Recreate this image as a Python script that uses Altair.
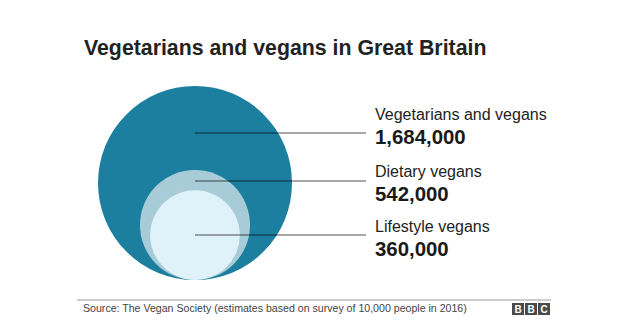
import math
import altair as alt
import pandas as pd

# ---- data ----
groups = ["Vegetarians and vegans", "Dietary vegans", "Lifestyle vegans"]
values = [1684000, 542000, 360000]
value_labels = ["1,684,000", "542,000", "360,000"]
colors = ["#1d7fa0", "#a7ccd7", "#e0f2f9"]

title_text = "Vegetarians and vegans in Great Britain"
source_text = "Source: The Vegan Society (estimates based on survey of 10,000 people in 2016)"
logo_letters = ["B", "B", "C"]

# ---- layout (pixels) ----
W, H = 625, 329
CX, BASE, RMAX = 195, 280, 97
line_y = [133, 181, 235]
line_x2 = 366
name_y = [120, 177, 232]
value_y = [144, 201, 256]
label_x = 375
FONT = "Liberation Sans"

vmax = max(values)
radii = [RMAX * math.sqrt(v / vmax) for v in values]
circles = pd.DataFrame({
    "group": groups,
    "value": values,
    "cx": [CX] * 3,
    "cy": [BASE - r for r in radii],
    "order": [0, 1, 2],
})
rows = pd.DataFrame({
    "group": groups,
    "label": value_labels,
    "x1": [CX] * 3,
    "x2": [line_x2] * 3,
    "ly": line_y,
    "tx": [label_x] * 3,
    "ny": name_y,
    "vy": value_y,
})

xs = alt.Scale(domain=[0, W], range=[0, W])
ys = alt.Scale(domain=[0, H], range=[0, H])

circ = alt.Chart(circles).mark_circle(opacity=1, strokeWidth=0).encode(
    x=alt.X("cx:Q", scale=xs, axis=None),
    y=alt.Y("cy:Q", scale=ys, axis=None),
    size=alt.Size("value:Q", scale=alt.Scale(domain=[0, vmax], range=[0, 4 * RMAX ** 2]), legend=None),
    color=alt.Color("group:N", scale=alt.Scale(domain=groups, range=colors), legend=None),
    order=alt.Order("order:Q"),
)

leaders = alt.Chart(rows).mark_rule(color="#000000", opacity=0.45, strokeWidth=1.3).encode(
    x=alt.X("x1:Q", scale=xs, axis=None),
    x2="x2:Q",
    y=alt.Y("ly:Q", scale=ys, axis=None),
)

names = alt.Chart(rows).mark_text(
    align="left", baseline="alphabetic", font=FONT, fontSize=16, color="#222222"
).encode(
    x=alt.X("tx:Q", scale=xs, axis=None),
    y=alt.Y("ny:Q", scale=ys, axis=None),
    text="group:N",
)

nums = alt.Chart(rows).mark_text(
    align="left", baseline="alphabetic", font=FONT, fontSize=20.4, fontWeight="bold", color="#1a1a1a"
).encode(
    x=alt.X("tx:Q", scale=xs, axis=None),
    y=alt.Y("vy:Q", scale=ys, axis=None),
    text="label:N",
)

title = alt.Chart(pd.DataFrame({"t": [title_text]})).mark_text(
    align="left", baseline="alphabetic", font=FONT, fontSize=21.3, fontWeight="bold", color="#222222"
).encode(x=alt.value(84), y=alt.value(55), text="t:N")

footer_rule = alt.Chart(pd.DataFrame({"a": [0]})).mark_rule(color="#9a9a9a", strokeWidth=1).encode(
    x=alt.value(77), x2=alt.value(551), y=alt.value(300)
)

source = alt.Chart(pd.DataFrame({"t": [source_text]})).mark_text(
    align="left", baseline="alphabetic", font=FONT, fontSize=10.6, color="#444444"
).encode(x=alt.value(83), y=alt.value(312), text="t:N")

logo_df = pd.DataFrame({
    "letter": logo_letters,
    "x0": [512, 525, 538],
    "x1": [524, 537, 550],
})
logo_boxes = alt.Chart(logo_df).mark_rect(color="#4a4a4a").encode(
    x=alt.X("x0:Q", scale=xs, axis=None),
    x2="x1:Q",
    y=alt.value(303),
    y2=alt.value(315),
)
logo_text = alt.Chart(logo_df).transform_calculate(
    xm="(datum.x0 + datum.x1) / 2"
).mark_text(
    align="center", baseline="middle", font=FONT, fontSize=10, fontWeight="bold", color="#ffffff"
).encode(
    x=alt.X("xm:Q", scale=xs, axis=None),
    y=alt.value(309.5),
    text="letter:N",
)

chart = alt.layer(
    circ, leaders, names, nums, title, footer_rule, source, logo_boxes, logo_text
).properties(
    width=W, height=H, autosize=alt.AutoSizeParams(type="none"), padding=0, background="#ffffff"
).configure_view(stroke=None)

chart.save("out.html", embed_options={"renderer": "svg", "actions": False})
